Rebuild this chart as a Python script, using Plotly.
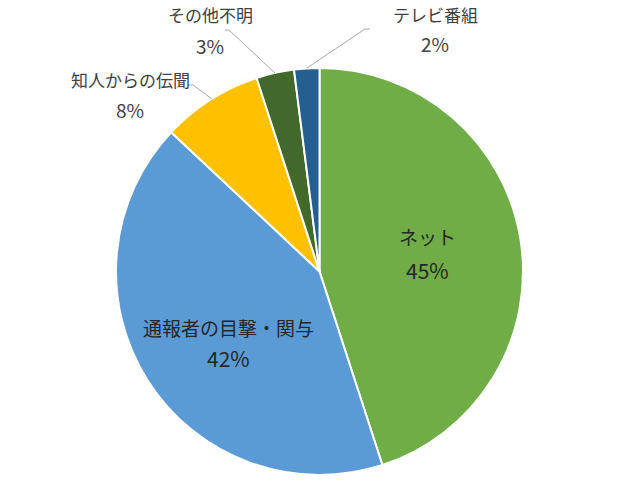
import plotly.graph_objects as go

labels = ["ネット", "通報者の目撃・関与", "知人からの伝聞", "その他不明", "テレビ番組"]
values = [45, 42, 8, 3, 2]
colors = ["#70AD47", "#5B9BD5", "#FFC000", "#43682B", "#255E91"]

W, H = 640, 480

# label placement in pixels: (x, y of name line, y of percent line, inside?)
label_pos = [
    (427, 236, 270, True),
    (228, 327, 358, True),
    (130, 80, 110, False),
    (210, 14, 45, False),
    (435, 14, 43, False),
]

# leader lines for outside labels, pixel points
leaders = [
    [(188, 85), (193, 85), (212, 99)],
    [(225, 30), (229, 30), (275, 73)],
    [(370, 29), (365, 29), (307, 68)],
]

fig = go.Figure(go.Pie(
    labels=labels,
    values=values,
    sort=False,
    direction="clockwise",
    rotation=0,
    textinfo="none",
    hoverinfo="label+percent",
    marker=dict(colors=colors, line=dict(color="white", width=2)),
    domain=dict(x=[116 / W, 523 / W], y=[1 - 475 / H, 1 - 68 / H]),
    showlegend=False,
))

total = sum(values)
annotations = []
for lab, val, (px, py1, py2, inside) in zip(labels, values, label_pos):
    size = 19 if inside else 17
    col = "#262626" if inside else "#404040"
    pct = f"{round(val / total * 100)}%"
    for txt, py, sz in ((lab, py1, size), (pct, py2, size + 2)):
        annotations.append(dict(
            x=px / W, y=1 - py / H, xref="paper", yref="paper",
            text=txt, showarrow=False, xanchor="center", yanchor="middle",
            font=dict(size=sz, color=col, family="Noto Sans CJK JP"),
        ))

shapes = []
for pts in leaders:
    for (x0, y0), (x1, y1) in zip(pts[:-1], pts[1:]):
        shapes.append(dict(
            type="line", xref="paper", yref="paper",
            x0=x0 / W, y0=1 - y0 / H, x1=x1 / W, y1=1 - y1 / H,
            line=dict(color="#A6A6A6", width=1),
        ))

fig.update_layout(
    width=W, height=H,
    margin=dict(l=0, r=0, t=0, b=0),
    paper_bgcolor="white",
    plot_bgcolor="white",
    font=dict(family="Noto Sans CJK JP"),
    annotations=annotations,
    shapes=shapes,
)

# drop the default page margin so the figure sits at the window corner
fig.write_html("out.html", config={"displayModeBar": False},
               post_script="document.body.style.margin='0';")
